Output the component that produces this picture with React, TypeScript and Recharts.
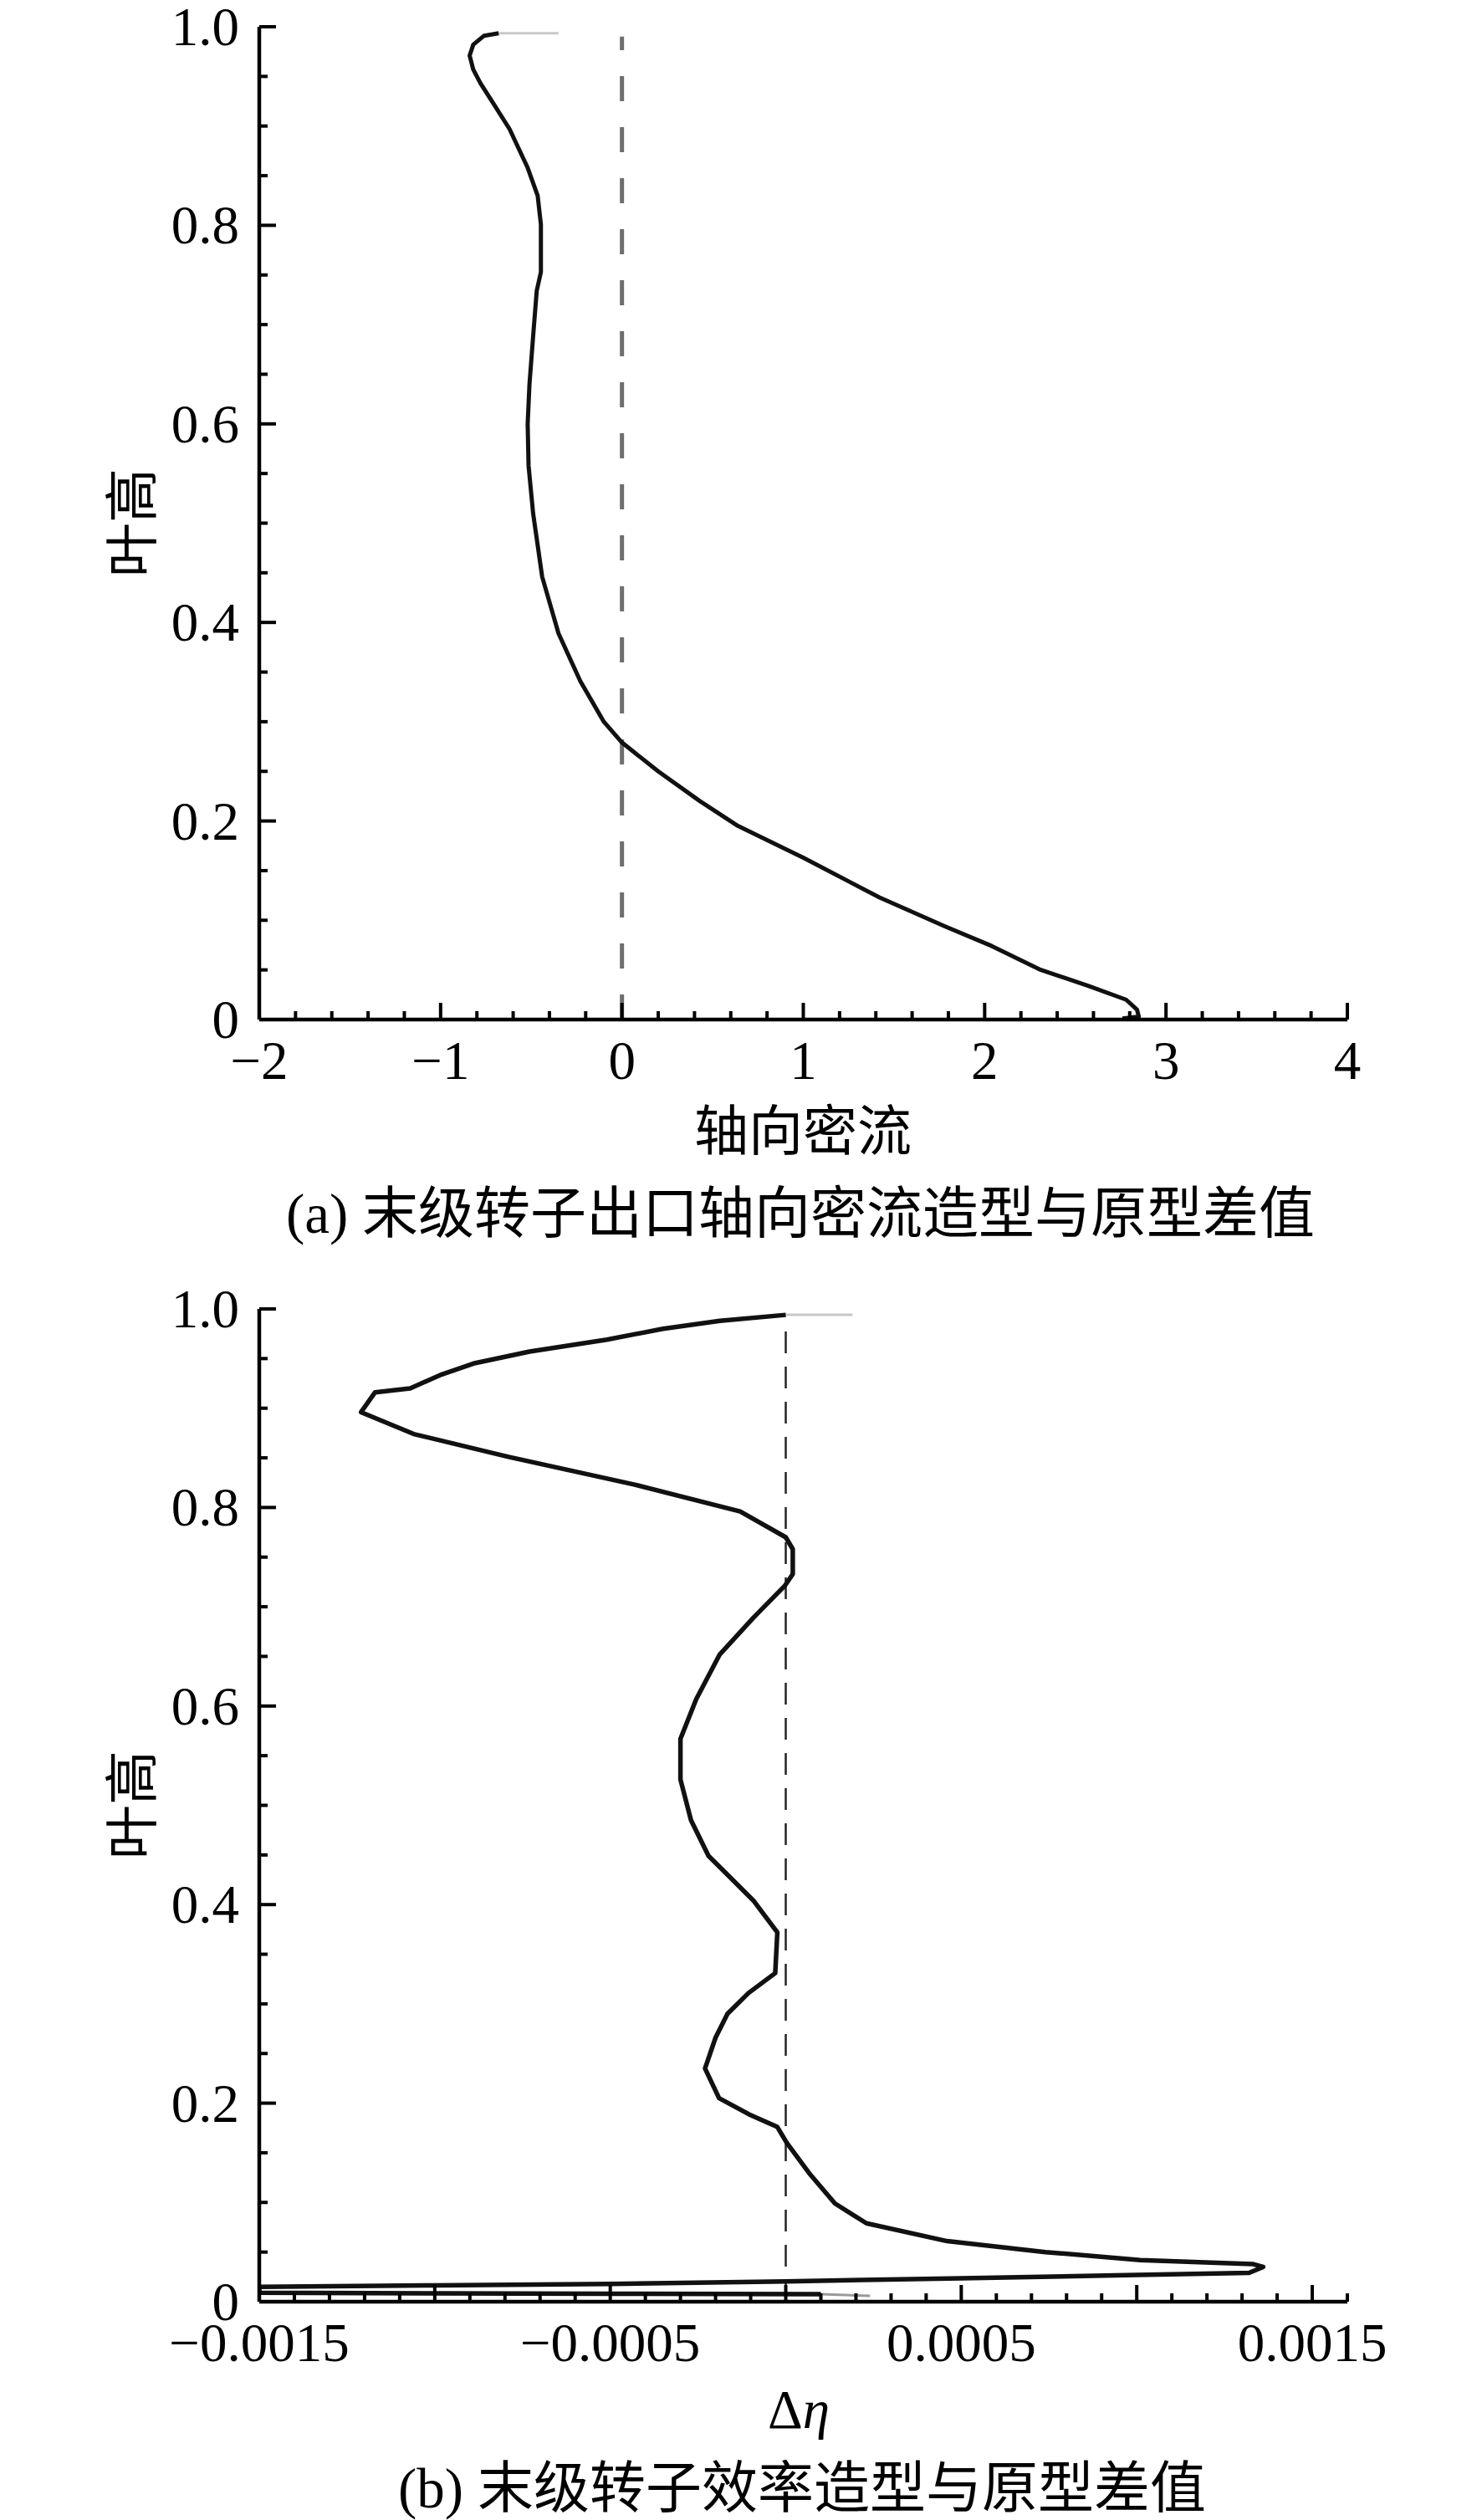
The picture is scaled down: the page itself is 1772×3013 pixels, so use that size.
import React from 'react';
import { LineChart, Line, XAxis, YAxis, ReferenceLine } from 'recharts';

// (a) 轴向密流差值 vs 叶高
const flowValue = [-0.68, -0.76, -0.82, -0.84, -0.82, -0.78, -0.71, -0.62, -0.52, -0.465, -0.447, -0.447, -0.47, -0.49, -0.51, -0.52, -0.515, -0.49, -0.44, -0.35, -0.23, -0.1, 0.0, 0.2, 0.43, 0.64, 1.0, 1.42, 1.78, 2.04, 2.31, 2.57, 2.78, 2.84, 2.85, 2.76];
const flowHeight = [0.9935, 0.991, 0.982, 0.971, 0.957, 0.943, 0.923, 0.897, 0.858, 0.83, 0.801, 0.753, 0.734, 0.688, 0.64, 0.6, 0.558, 0.51, 0.446, 0.389, 0.341, 0.3, 0.279, 0.25, 0.22, 0.195, 0.163, 0.123, 0.094, 0.074, 0.05, 0.034, 0.02, 0.01, 0.003, 0.001];
const flowCapValue = [-0.68, -0.35];
const flowCapHeight = [0.9935, 0.9935];

// (b) 效率差值 vs 叶高
const etaValue = [0, -0.000188, -0.00035, -0.00051, -0.00073, -0.00089, -0.00098, -0.00107, -0.00117, -0.00121, -0.00106, -0.00079, -0.00043, -0.00013, 0, 0.00002, 0.00002, -0.000003, -0.000092, -0.000188, -0.000255, -0.0003, -0.0003, -0.00027, -0.00022, -0.00016, -0.000092, -0.000024, -0.00003, -0.000106, -0.000166, -0.0002, -0.00023, -0.00019, -0.000106, -0.000024, 0.000003, 0.00007, 0.00014, 0.00023, 0.00046, 0.00074, 0.00101, 0.00133, 0.00136, 0.00132, 0.001, 0.0005, 0, -0.0005, -0.001, -0.0015, -0.0015, -0.001, -0.0005, 0.0001];
const etaHeight = [0.994, 0.988, 0.98, 0.969, 0.957, 0.945, 0.934, 0.92, 0.916, 0.896, 0.874, 0.851, 0.823, 0.796, 0.77, 0.758, 0.733, 0.721, 0.689, 0.652, 0.607, 0.567, 0.526, 0.485, 0.449, 0.428, 0.404, 0.372, 0.331, 0.311, 0.29, 0.266, 0.235, 0.205, 0.189, 0.176, 0.16, 0.128, 0.099, 0.079, 0.061, 0.05, 0.042, 0.038, 0.035, 0.029, 0.027, 0.0235, 0.0205, 0.018, 0.0165, 0.015, 0.009, 0.0085, 0.008, 0.0075];
const etaCapValue = [0, 0.00019];
const etaCapHeight = [0.994, 0.994];
const etaTailValue = [0.0001, 0.00024];
const etaTailHeight = [0.0075, 0.006];

// axis ticks
const heightLabels = [0, 0.2, 0.4, 0.6, 0.8, 1.0];
const flowLabels = [-2, -1, 0, 1, 2, 3, 4];
const etaLabels = [-0.0015, -0.0005, 0.0005, 0.0015];
const etaMajor = [-0.0015, -0.001, -0.0005, 0, 0.0005, 0.001, 0.0015];

const SERIF = '"Liberation Serif", "Times New Roman", serif';
const CJK = '"Liberation Serif", "Noto Sans CJK SC", serif';

const zip = (v: number[], h: number[]) => v.map((x, i) => ({ v: x, h: h[i] }));

const steps = (from: number, to: number, step: number) => {
  const out: number[] = [];
  const n = Math.round((to - from) / step);
  for (let i = 0; i <= n; i++) out.push(Number((from + i * step).toFixed(6)));
  return out;
};

const isIn = (list: number[], v: number) => list.some((t) => Math.abs(t - v) < 1e-9);

const minus = (n: number) => (n < 0 ? '\u2212' : '') + String(Math.abs(n));

const YTick = (props: any) => {
  const { x, y, payload } = props;
  const v = payload.value;
  const major = isIn(heightLabels, v);
  return (
    <g>
      <line x1={x} x2={x + (major ? 20 : 10)} y1={y} y2={y} stroke="#000" strokeWidth={4} />
      {major && (
        <text x={x - 24} y={y} dy={22} textAnchor="end" fontFamily={SERIF} fontSize={65} fill="#000">
          {v === 0 ? '0' : v.toFixed(1)}
        </text>
      )}
    </g>
  );
};

const makeXTick = (labels: number[], majors: number[]) => (props: any) => {
  const { x, y, payload } = props;
  const v = payload.value;
  const major = isIn(majors, v);
  const label = isIn(labels, v);
  return (
    <g>
      <line x1={x} x2={x} y1={y} y2={y - (major ? 20 : 10)} stroke="#000" strokeWidth={4} />
      {label && (
        <text x={x} y={y + 71} textAnchor="middle" fontFamily={SERIF} fontSize={65} fill="#000">
          {minus(v)}
        </text>
      )}
    </g>
  );
};

const FlowTick = makeXTick(flowLabels, flowLabels);
const EtaTick = makeXTick(etaLabels, etaMajor);

const W = 1772;
const H = 1365;
const margin = { top: 52, right: 161, bottom: 45, left: 160 };
const axisLine = { stroke: '#000', strokeWidth: 4.5 };

const centered = (left: number, top: number, extra: React.CSSProperties = {}): React.CSSProperties => ({
  position: 'absolute',
  left,
  top,
  transform: 'translate(-50%, -50%)',
  whiteSpace: 'nowrap',
  fontFamily: CJK,
  fontSize: 65,
  lineHeight: 1,
  color: '#000',
  ...extra,
});

const App = () => {
  const yTicks = steps(0, 1, 0.05);
  return (
    <div style={{ position: 'absolute', left: 0, top: 0, width: W, height: 3013, background: '#fff', overflow: 'hidden' }}>
      <div style={{ position: 'absolute', left: 0, top: -20 }}>
        <LineChart width={W} height={H} margin={margin}>
          <XAxis
            type="number"
            dataKey="v"
            domain={[-2, 4]}
            ticks={steps(-2, 4, 0.2)}
            interval={0}
            allowDataOverflow
            axisLine={axisLine}
            tickLine={false}
            tickSize={0}
            tickMargin={0}
            tick={FlowTick}
            height={81}
          />
          <YAxis
            type="number"
            domain={[0, 1]}
            ticks={yTicks}
            interval={0}
            allowDataOverflow
            axisLine={axisLine}
            tickLine={false}
            tickSize={0}
            tickMargin={0}
            tick={YTick}
            width={150}
          />
          <ReferenceLine
            segment={[{ x: 0, y: 0 }, { x: 0, y: 0.99 }]}
            stroke="#6e6e6e"
            strokeWidth={5}
            strokeDasharray="30 31"
          />
          <Line data={zip(flowCapValue, flowCapHeight)} dataKey="h" type="linear" stroke="#c8c8c8" strokeWidth={3} dot={false} isAnimationActive={false} />
          <Line data={zip(flowValue, flowHeight)} dataKey="h" type="linear" stroke="#111" strokeWidth={5} strokeLinejoin="round" dot={false} isAnimationActive={false} />
        </LineChart>
      </div>

      <div style={centered(159, 625, { transform: 'translate(-50%, -50%) rotate(-90deg)' })}>叶高</div>
      <div style={centered(960, 1353)}>轴向密流</div>
      <div style={centered(957, 1451, { fontSize: 67 })}>(a) 末级转子出口轴向密流造型与原型差值</div>

      <div style={{ position: 'absolute', left: 0, top: 1513 }}>
        <LineChart width={W} height={H} margin={margin}>
          <XAxis
            type="number"
            dataKey="v"
            domain={[-0.0015, 0.0016]}
            ticks={steps(-0.0015, 0.0016, 0.0001)}
            interval={0}
            allowDataOverflow
            axisLine={axisLine}
            tickLine={false}
            tickSize={0}
            tickMargin={0}
            tick={EtaTick}
            height={81}
          />
          <YAxis
            type="number"
            domain={[0, 1]}
            ticks={yTicks}
            interval={0}
            allowDataOverflow
            axisLine={axisLine}
            tickLine={false}
            tickSize={0}
            tickMargin={0}
            tick={YTick}
            width={150}
          />
          <ReferenceLine
            segment={[{ x: 0, y: 0 }, { x: 0, y: 0.99 }]}
            stroke="#222"
            strokeWidth={2.5}
            strokeDasharray="26 16"
          />
          <Line data={zip(etaCapValue, etaCapHeight)} dataKey="h" type="linear" stroke="#c8c8c8" strokeWidth={3} dot={false} isAnimationActive={false} />
          <Line data={zip(etaTailValue, etaTailHeight)} dataKey="h" type="linear" stroke="#9a9a9a" strokeWidth={3} dot={false} isAnimationActive={false} />
          <Line data={zip(etaValue, etaHeight)} dataKey="h" type="linear" stroke="#111" strokeWidth={5.5} strokeLinejoin="round" dot={false} isAnimationActive={false} />
        </LineChart>
      </div>

      <div style={centered(159, 2158, { transform: 'translate(-50%, -50%) rotate(-90deg)' })}>叶高</div>
      <div style={centered(955, 2881, { fontFamily: SERIF })}>
        Δ<span style={{ fontStyle: 'italic' }}>η</span>
      </div>
      <div style={centered(959, 2975, { fontSize: 67 })}>(b) 末级转子效率造型与原型差值</div>
    </div>
  );
};

export default App;
